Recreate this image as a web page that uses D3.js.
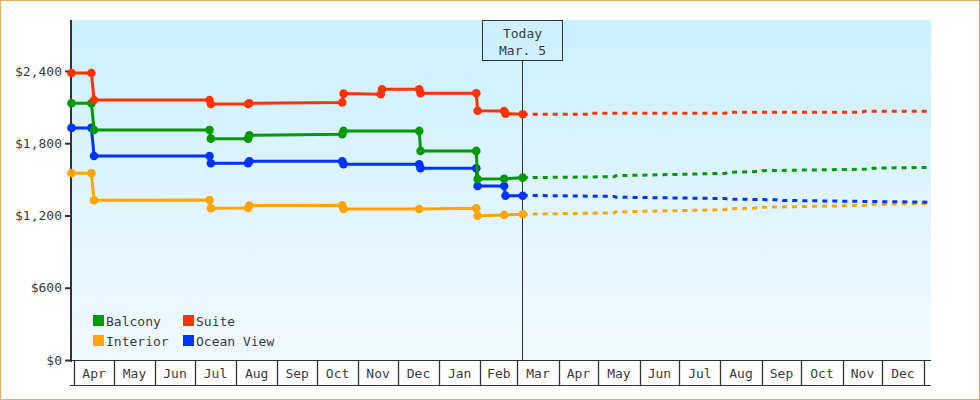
<!DOCTYPE html>
<html><head><meta charset="utf-8">
<script src="https://cdn.jsdelivr.net/npm/d3@7"></script>
<style>
body{margin:0;background:#fff}
svg{display:block}
text{font-family:"DejaVu Sans Mono",monospace;font-size:13px;fill:#3a3a3a}
</style>
</head><body>
<svg id="chart" width="980" height="400"></svg>
<script>
// ---- data ----
const seriesNames = ["Balcony", "Suite", "Interior", "Ocean View"];
const seriesColors = ["#009900", "#ff3300", "#ffa500", "#0033ff"];
const monthLabels = ["Apr","May","Jun","Jul","Aug","Sep","Oct","Nov","Dec","Jan","Feb","Mar","Apr","May","Jun","Jul","Aug","Sep","Oct","Nov","Dec"];
const yTicks = [0, 600, 1200, 1800, 2400];
const todayDate = "2023-03-05";
const todayLabel = ["Today", "Mar. 5"];
const dateDomain = ["2022-03-30", "2024-01-07"];

const balconyHist = [["2022-03-30",2132],["2022-04-14",2132],["2022-04-16",1910],["2022-07-12",1910],["2022-07-13",1838],["2022-08-10",1838],["2022-08-11",1866],["2022-10-20",1874],["2022-10-21",1902],["2022-12-17",1902],["2022-12-18",1736],["2023-01-29",1736],["2023-01-30",1503],["2023-02-19",1505],["2023-03-05",1514]];
const suiteHist = [["2022-03-30",2383],["2022-04-14",2383],["2022-04-16",2159],["2022-07-12",2159],["2022-07-13",2126],["2022-08-10",2126],["2022-08-11",2132],["2022-10-20",2138],["2022-10-21",2212],["2022-11-18",2206],["2022-11-19",2248],["2022-12-17",2248],["2022-12-18",2215],["2023-01-29",2215],["2023-01-30",2070],["2023-02-19",2068],["2023-02-20",2045],["2023-03-05",2040]];
const interiorHist = [["2022-03-30",1550],["2022-04-14",1550],["2022-04-16",1326],["2022-07-12",1329],["2022-07-13",1260],["2022-08-10",1262],["2022-08-11",1283],["2022-10-20",1285],["2022-10-21",1254],["2022-12-17",1254],["2023-01-29",1260],["2023-01-30",1198],["2023-02-19",1204],["2023-03-05",1210]];
const oceanHist = [["2022-03-30",1927],["2022-04-14",1927],["2022-04-16",1694],["2022-07-12",1694],["2022-07-13",1633],["2022-08-10",1633],["2022-08-11",1650],["2022-10-20",1650],["2022-10-21",1625],["2022-12-17",1625],["2022-12-18",1592],["2023-01-29",1592],["2023-01-30",1445],["2023-02-19",1445],["2023-02-20",1364],["2023-03-05",1364]];

const balconyFcst = [["2023-03-05",1514],["2023-05-13",1522],["2023-05-14",1530],["2023-08-05",1550],["2023-08-06",1558],["2023-09-01",1565],["2023-09-02",1572],["2023-11-23",1585],["2023-11-24",1592],["2024-01-07",1600]];
const suiteFcst = [["2023-03-05",2040],["2023-04-24",2040],["2023-04-25",2049],["2023-08-05",2049],["2023-08-06",2057],["2023-11-16",2057],["2023-11-17",2065],["2024-01-07",2065]];
const interiorFcst = [["2023-03-05",1210],["2023-05-13",1222],["2023-05-14",1230],["2023-08-05",1248],["2023-08-06",1255],["2023-09-01",1262],["2023-09-02",1268],["2023-11-23",1285],["2023-11-24",1292],["2024-01-07",1301]];
const oceanFcst = [["2023-03-05",1367],["2023-05-13",1358],["2023-05-14",1352],["2023-08-05",1340],["2023-08-06",1336],["2023-09-16",1330],["2023-09-17",1325],["2024-01-07",1310]];

const histData = [balconyHist, suiteHist, interiorHist, oceanHist];
const fcstData = [balconyFcst, suiteFcst, interiorFcst, oceanFcst];

// ---- drawing ----
const parse = d3.utcParse("%Y-%m-%d");
const svg = d3.select("#chart");
const pLeft = 72, pRight = 931, pTop = 20, pBottom = 360;

const x = d3.scaleUtc().domain(dateDomain.map(parse)).range([71.5, 931.5]);
const y = d3.scaleLinear().domain([0, 2823]).range([pBottom, pTop]);

// outer border
svg.append("rect").attr("x",0.5).attr("y",0.5).attr("width",979).attr("height",399)
  .attr("fill","none").attr("stroke","#e9a964");

// gradient background
const defs = svg.append("defs");
const grad = defs.append("linearGradient").attr("id","bg").attr("x1",0).attr("y1",0).attr("x2",0).attr("y2",1);
grad.append("stop").attr("offset","0%").attr("stop-color","#ccefff");
grad.append("stop").attr("offset","100%").attr("stop-color","#f0faff");
svg.append("rect").attr("x",pLeft).attr("y",pTop).attr("width",pRight-pLeft).attr("height",pBottom-pTop).attr("fill","url(#bg)");

// x axis month band
const monthStarts = d3.utcMonth.range(d3.utcMonth.ceil(x.domain()[0]), x.domain()[1]);
const band = svg.append("g");
band.append("line").attr("x1",70).attr("x2",pRight).attr("y1",360.5).attr("y2",360.5).attr("stroke","#333");
band.append("line").attr("x1",70).attr("x2",pRight).attr("y1",385.5).attr("y2",385.5).attr("stroke","#333");
band.selectAll("line.sep").data(monthStarts).join("line").attr("class","sep")
  .attr("x1",d=>Math.round(x(d))+0.5).attr("x2",d=>Math.round(x(d))+0.5)
  .attr("y1",360).attr("y2",385).attr("stroke","#333").attr("stroke-width",1.3);
band.selectAll("text").data(monthStarts.slice(0, monthLabels.length)).join("text")
  .attr("x",d=>(x(d)+x(d3.utcMonth.offset(d,1)))/2).attr("y",378)
  .attr("text-anchor","middle").text((d,i)=>monthLabels[i]);

// y axis
const yAxis = d3.axisLeft(y).tickValues(yTicks).tickFormat(d3.format("$,")).tickSize(6).tickPadding(3);
const yg = svg.append("g").attr("transform","translate(71,0)").call(yAxis);
yg.select(".domain").remove();
yg.selectAll(".tick line").attr("stroke","#333").attr("stroke-width",2);
yg.selectAll(".tick text").attr("font-family","DejaVu Sans Mono").attr("font-size",13).attr("fill","#3a3a3a");
svg.append("line").attr("x1",71).attr("x2",71).attr("y1",pTop).attr("y2",362).attr("stroke","#333").attr("stroke-width",2);

// today marker
const tx = Math.floor(x(parse(todayDate))) + 0.5;
svg.append("line").attr("x1",tx).attr("x2",tx).attr("y1",60).attr("y2",360).attr("stroke","#333");
svg.append("rect").attr("x",tx-40).attr("y",20.5).attr("width",80).attr("height",40)
  .attr("fill","none").attr("stroke","#333");
svg.append("text").attr("x",tx).attr("y",37.5).attr("text-anchor","middle").text(todayLabel[0]);
svg.append("text").attr("x",tx).attr("y",55).attr("text-anchor","middle").text(todayLabel[1]);

// lines
const line = d3.line().x(d=>x(parse(d[0]))).y(d=>y(d[1]));
const order = [2, 3, 0, 1];
order.forEach(i=>{
  svg.append("path").datum(fcstData[i]).attr("d",line).attr("fill","none")
    .attr("stroke",seriesColors[i]).attr("stroke-width",3).attr("stroke-dasharray","5,5");
});
order.forEach(i=>{
  svg.append("path").datum(histData[i]).attr("d",line).attr("fill","none")
    .attr("stroke",seriesColors[i]).attr("stroke-width",3);
  svg.append("g").selectAll("circle").data(histData[i]).join("circle")
    .attr("cx",d=>x(parse(d[0]))).attr("cy",d=>y(d[1])).attr("r",4.3).attr("fill",seriesColors[i]);
});

// legend
const legendPos = [[93,315],[183,315],[93,335],[183,335]];
const lg = svg.append("g");
seriesNames.forEach((n,i)=>{
  lg.append("rect").attr("x",legendPos[i][0]).attr("y",legendPos[i][1]).attr("width",11).attr("height",11).attr("fill",seriesColors[i]);
  lg.append("text").attr("x",legendPos[i][0]+13).attr("y",legendPos[i][1]+11).text(n);
});
</script>
</body></html>
